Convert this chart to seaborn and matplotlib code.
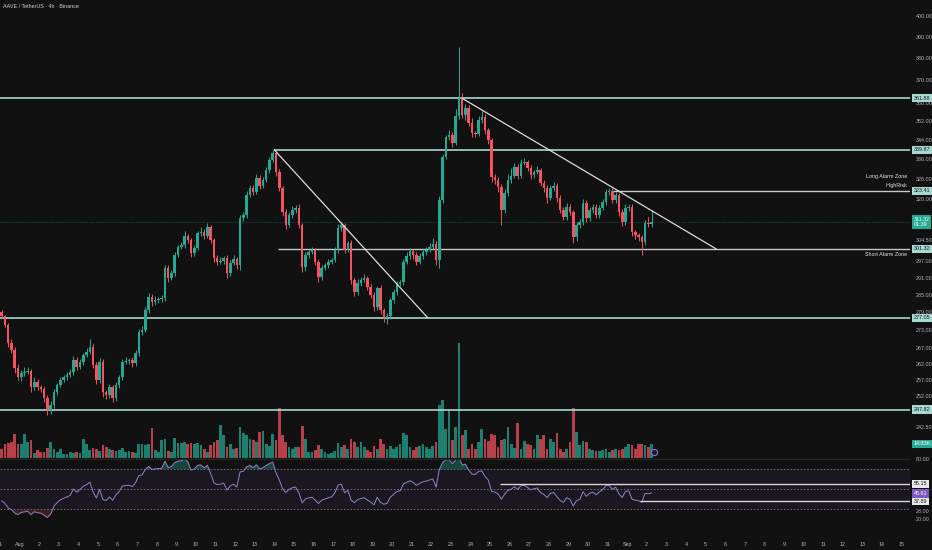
import numpy as np
import pandas as pd
import matplotlib
matplotlib.use("Agg")
import matplotlib.pyplot as plt
import matplotlib.transforms as mtransforms
from matplotlib.ticker import FixedLocator, NullLocator, FuncFormatter
import seaborn as sns

# AAVE / TetherUS, 4h candles from 31 Jul 2025
start = pd.Timestamp("2025-07-31 00:00")
first_open = 279.0

closes = [
    277.7, 274.7, 268.7, 266.4, 260.6, 257.8, 259.1, 259.4, 259.7, 254.7,
    256.3, 254.7, 254.1, 251.3, 247.7, 249.2, 253.2, 255.3, 256.9, 257.8,
    258.5, 259.4, 263.2, 261.0, 262.6, 264.8, 265.8, 267.4, 261.6, 256.9,
    262.6, 253.2, 252.2, 254.7, 251.3, 255.3, 257.8, 262.6, 262.9, 263.2,
    262.2, 265.4, 272.3, 273.0, 279.7, 284.2, 282.4, 283.1, 283.5, 283.8,
    294.4, 290.8, 292.6, 299.1, 302.0, 302.7, 306.0, 304.6, 299.8, 301.6,
    307.1, 307.5, 306.0, 309.4, 304.6, 298.0, 296.6, 297.0, 298.0, 292.6,
    296.2, 297.7, 295.5, 312.9, 314.0, 321.7, 324.5, 322.9, 328.4, 325.3,
    327.7, 331.7, 335.7, 338.6, 330.9, 324.5, 315.1, 310.2, 314.0, 315.9,
    316.7, 310.2, 294.8, 299.1, 300.2, 300.9, 296.6, 291.2, 294.4, 295.5,
    296.6, 297.3, 300.9, 309.1, 310.2, 300.9, 303.4, 290.1, 285.9, 289.1,
    290.1, 290.8, 287.7, 284.9, 280.7, 287.3, 279.7, 277.0, 277.6, 283.1,
    285.9, 288.7, 289.4, 296.6, 298.7, 300.5, 299.1, 296.6, 298.7, 300.2,
    300.9, 302.0, 303.1, 297.3, 319.8, 337.0, 345.3, 346.1, 342.7, 354.2,
    361.9, 354.6, 357.7, 351.2, 346.9, 346.5, 352.5, 353.8, 348.2, 344.0,
    328.8, 327.7, 324.9, 315.9, 322.5, 327.7, 329.3, 332.9, 329.3, 334.5,
    334.9, 332.5, 329.6, 330.8, 331.7, 326.5, 324.5, 320.6, 324.5, 325.3,
    320.6, 315.9, 313.2, 317.1, 315.1, 305.6, 310.2, 311.3, 318.6, 312.9,
    315.9, 317.1, 314.0, 316.7, 319.0, 322.9, 323.4, 319.8, 321.7, 315.1,
    311.3, 316.7, 317.1, 307.5, 306.4, 305.6, 303.8, 310.9, 310.6, 311.32,
]

wick_up = [
    0.8, 0.5, 0.6, 1.2, 0.9, 1.5, 1.0, 1.6, 1.2, 0.8,
    1.5, 0.9, 0.7, 0.6, 0.8, 1.1, 0.9, 0.7, 0.8, 0.6,
    0.9, 0.8, 1.4, 0.9, 1.0, 0.8, 1.2, 2.6, 1.0, 0.9,
    1.4, 0.8, 0.7, 1.1, 0.6, 0.9, 0.8, 1.0, 1.2, 0.7,
    1.0, 0.9, 1.2, 1.5, 0.9, 1.4, 1.1, 1.6, 0.8, 1.0,
    1.2, 1.1, 0.9, 1.0, 0.8, 1.3, 2.0, 0.7, 0.9, 1.3,
    1.0, 1.8, 1.2, 1.4, 0.9, 0.8, 1.0, 1.2, 0.9, 1.1,
    1.0, 1.4, 0.8, 1.2, 1.0, 1.5, 1.0, 1.3, 1.5, 1.1,
    1.0, 1.2, 1.1, 1.3, 0.9, 1.0, 0.8, 1.1, 1.2, 1.4,
    1.0, 1.5, 0.9, 1.2, 1.1, 1.0, 0.9, 1.0, 1.1, 0.8,
    0.9, 0.8, 1.0, 1.4, 1.0, 0.9, 0.9, 1.2, 0.8, 1.3,
    1.0, 1.4, 0.8, 0.9, 1.1, 0.8, 0.9, 0.6, 1.0, 0.9,
    1.0, 1.2, 0.8, 1.1, 1.3, 1.0, 0.9, 1.2, 1.0, 0.9,
    1.1, 1.4, 2.2, 1.0, 1.5, 1.2, 1.0, 2.0, 1.4, 3.0,
    23.3, 2.5, 1.5, 1.2, 2.0, 1.0, 1.5, 2.5, 1.2, 1.0,
    1.0, 1.3, 1.0, 1.2, 1.5, 2.2, 3.0, 1.5, 1.2, 1.5,
    1.8, 1.0, 1.2, 1.0, 1.4, 0.9, 1.0, 1.2, 1.0, 1.6,
    1.0, 1.1, 1.0, 1.4, 1.0, 0.9, 1.2, 1.0, 1.5, 1.0,
    1.2, 1.0, 1.1, 1.3, 1.0, 1.2, 0.9, 1.0, 1.3, 1.0,
    1.1, 1.4, 1.0, 1.2, 1.0, 0.8, 1.0, 1.2, 2.4, 4.6,
]

wick_dn = [
    0.6, 0.8, 1.2, 0.8, 1.5, 1.0, 1.3, 0.9, 0.7, 1.5,
    0.8, 1.0, 0.9, 1.2, 1.4, 1.2, 0.9, 0.8, 0.7, 0.6,
    0.8, 0.7, 0.9, 1.1, 0.8, 0.9, 0.7, 0.8, 1.0, 1.4,
    0.9, 1.5, 1.1, 0.8, 1.2, 0.8, 0.9, 1.0, 0.7, 0.9,
    1.1, 0.8, 0.9, 1.0, 0.8, 0.9, 1.2, 0.8, 1.0, 0.9,
    1.0, 1.3, 0.8, 1.0, 0.9, 0.8, 0.9, 1.0, 1.4, 1.0,
    0.8, 0.9, 1.2, 0.8, 1.0, 1.5, 1.1, 0.9, 1.0, 1.6,
    1.2, 0.9, 1.4, 1.8, 1.0, 1.2, 0.8, 1.0, 0.9, 1.3,
    0.9, 1.0, 1.1, 0.8, 1.5, 1.2, 1.6, 1.4, 0.9, 1.0,
    1.0, 1.3, 2.0, 1.5, 1.0, 0.9, 1.2, 1.8, 1.0, 0.9,
    1.0, 0.8, 0.9, 1.0, 1.1, 1.2, 0.8, 1.4, 1.5, 0.9,
    1.0, 0.8, 1.2, 1.0, 1.3, 1.0, 1.4, 1.2, 2.0, 0.8,
    0.9, 1.0, 0.8, 1.0, 0.9, 1.1, 1.3, 1.0, 0.8, 0.9,
    1.0, 0.9, 0.8, 2.0, 2.8, 1.2, 1.0, 1.5, 1.8, 1.0,
    1.5, 1.2, 2.0, 1.5, 1.8, 1.4, 1.0, 1.2, 1.6, 1.8,
    2.0, 1.5, 1.8, 5.7, 1.2, 1.0, 1.4, 1.0, 1.2, 1.0,
    1.0, 1.2, 1.4, 1.0, 0.9, 1.2, 1.4, 1.8, 1.0, 1.2,
    1.6, 1.3, 1.0, 1.1, 1.2, 2.2, 1.4, 1.0, 1.2, 1.5,
    1.0, 1.2, 1.0, 1.0, 0.9, 1.0, 1.0, 1.3, 1.0, 1.4,
    1.5, 1.0, 1.2, 1.5, 1.3, 1.2, 4.7, 1.0, 1.2, 1.0,
]

volume_k = [
    9, 14, 15, 16, 24, 14, 14, 24, 16, 18,
    5, 8, 6, 6, 10, 16, 9, 6, 9, 4,
    4, 6, 5, 6, 5, 19, 14, 8, 10, 9,
    7, 13, 11, 9, 8, 7, 8, 10, 6, 7,
    6, 5, 14, 14, 13, 14, 30, 8, 6, 18,
    19, 7, 6, 20, 15, 15, 16, 14, 15, 14,
    15, 13, 9, 6, 13, 16, 18, 33, 23, 11,
    14, 9, 10, 31, 25, 23, 19, 18, 16, 26,
    27, 14, 12, 24, 18, 50, 23, 16, 11, 9,
    11, 11, 32, 19, 6, 6, 8, 13, 9, 6,
    4, 5, 7, 15, 11, 13, 9, 19, 16, 11,
    16, 11, 8, 6, 12, 9, 19, 14, 9, 12,
    9, 11, 14, 25, 23, 11, 8, 11, 12, 14,
    11, 9, 12, 16, 53, 58, 29, 48, 18, 31,
    115, 23, 28, 9, 14, 9, 16, 29, 19, 17,
    24, 23, 11, 18, 19, 31, 14, 10, 35, 9,
    17, 14, 13, 9, 23, 19, 23, 9, 19, 16,
    25, 9, 6, 9, 16, 50, 26, 13, 17, 16,
    9, 8, 7, 7, 8, 9, 6, 8, 9, 8,
    9, 11, 14, 13, 9, 14, 14, 13, 11, 14.33,
]

# RSI(14) state before the first candle, estimated from the left edge
rsi_seed_gain = 1.3
rsi_seed_loss = 2.0

# drawn levels and lines
full_levels = [361.88, 339.87, 277.05, 247.82]
level_starts = {339.87: "2025-08-14 00:00"}
part_levels = [(323.41, "2025-08-31 04:00"), (301.32, "2025-08-14 04:00")]
trend_lines = [
    (("2025-08-14 00:00", 339.87), ("2025-08-21 20:00", 277.05)),
    (("2025-08-23 14:00", 361.88), ("2025-09-05 13:00", 301.32)),
]
rsi_lines = [(55.15, "2025-08-25 12:00"), (37.89, "2025-09-01 16:00")]
rsi_now = 45.61
price_now = 311.32
price_ticks = [400, 390, 380, 370, 360, 352, 344, 336, 328, 320, 304.5,
               297, 291, 285, 279, 273, 267, 262, 257, 252, 242.5, 238]
rsi_ticks = [80, 28, 20]

bg = "#111111"
up_col = "#22ab94"
dn_col = "#f7525f"
level_col = "#a8d8d0"
grey_line = "#c8c8c8"
text_col = "#b2b5be"
fs = 3.9

sns.set_theme(style="dark", rc={
    "axes.facecolor": bg, "figure.facecolor": bg,
    "axes.edgecolor": bg, "text.color": text_col,
    "xtick.color": text_col, "ytick.color": text_col,
})
plt.rcParams["font.family"] = ["Liberation Sans", "DejaVu Sans"]


def day_of(ts):
    return (pd.Timestamp(ts) - start) / pd.Timedelta(days=1)


n = len(closes)
closes_a = np.array(closes)
opens_a = np.r_[first_open, closes_a[:-1]]
highs_a = np.maximum(opens_a, closes_a) + np.array(wick_up)
lows_a = np.minimum(opens_a, closes_a) - np.array(wick_dn)
t = (np.arange(n) + 0.5) / 6.0
is_up = closes_a >= opens_a
colors = np.where(is_up, up_col, dn_col)

chg = np.diff(np.r_[first_open, closes_a])
avg_g, avg_l = rsi_seed_gain, rsi_seed_loss
rsi = []
for d in chg:
    avg_g = (avg_g * 13 + max(d, 0)) / 14
    avg_l = (avg_l * 13 + max(-d, 0)) / 14
    rsi.append(100 - 100 / (1 + avg_g / avg_l))
rsi = np.array(rsi)
df_rsi = pd.DataFrame({"t": t, "rsi": rsi})

W, H = 932, 550
x0 = 1 - 19.5 / 19.6
x1 = x0 + 910 / 19.6

fig = plt.figure(figsize=(W / 100, H / 100), dpi=100)
rect_main = [0, 92 / H, 910 / W, 458 / H]
ax_vol = fig.add_axes(rect_main)
ax = fig.add_axes(rect_main, sharex=ax_vol)
ax.patch.set_alpha(0)
ax_rsi = fig.add_axes([0, 14 / H, 910 / W, 77 / H], sharex=ax_vol)

for a in (ax_vol, ax, ax_rsi):
    for s in a.spines.values():
        s.set_visible(False)
    a.grid(False)

# volume
ax_vol.bar(t, volume_k, width=0.14, color=colors, alpha=0.72, linewidth=0)
ax_vol.set_ylim(0, 458)
ax_vol.set_yticks([])
ax_vol.tick_params(axis="x", bottom=False, labelbottom=False)
ax_vol.plot([t[-1] + 0.12], [6], marker="o", ms=4.5, mfc="#1e1533",
            mec="#9c6ade", mew=0.8, ls="none")

# candles
ax.set_yscale("log")
ax.vlines(t, lows_a, highs_a, colors=colors, linewidth=0.7, zorder=3)
body = np.maximum(np.abs(closes_a - opens_a), 0.3)
ax.bar(t, body, bottom=np.minimum(opens_a, closes_a), width=0.13,
       color=colors, linewidth=0, zorder=4)

ax.set_xlim(x0, x1)
ax.set_ylim(233.64, 407.86)

for lv in full_levels:
    xs = day_of(level_starts[lv]) if lv in level_starts else x0
    ax.hlines(lv, xs, x1, color=level_col, linewidth=1.2, zorder=2)
for lv, ts in part_levels:
    ax.hlines(lv, day_of(ts), x1, color=grey_line, linewidth=1.0, zorder=2)
for (ta, pa), (tb, pb) in trend_lines:
    ax.plot([day_of(ta), day_of(tb)], [pa, pb], color="#dcdcdc",
            linewidth=0.9, zorder=5)
ax.axhline(price_now, color=up_col, linewidth=0.5, ls=(0, (1, 1.5)),
           alpha=0.6, zorder=2)

ax.yaxis.tick_right()
ax.yaxis.set_major_locator(FixedLocator(price_ticks))
ax.yaxis.set_minor_locator(NullLocator())
ax.yaxis.set_major_formatter(FuncFormatter(lambda v, _: f"{v:.2f}"))
ax.tick_params(axis="y", which="both", length=0, pad=4, labelsize=fs,
               labelcolor=text_col)
ax.tick_params(axis="x", bottom=False, labelbottom=False)

tr_p = mtransforms.blended_transform_factory(ax.transAxes, ax.transData)


def box(a, trans, y, txt, fc, tc):
    a.text(1.004, y, txt, transform=trans, ha="left", va="center",
           fontsize=fs, color=tc, clip_on=False, zorder=10,
           bbox=dict(boxstyle="square,pad=0.3", fc=fc, ec="none"))


for lv in full_levels + [p for p, _ in part_levels]:
    box(ax, tr_p, lv, f"{lv:.2f}", level_col, "#131722")
ax.text(1.004, price_now, f"{price_now:.2f}\n01:39", transform=tr_p,
        ha="left", va="center", fontsize=fs, color="white",
        linespacing=1.1, clip_on=False, zorder=10,
        bbox=dict(boxstyle="square,pad=0.3", fc=up_col, ec="none"))

tr_v = mtransforms.blended_transform_factory(ax_vol.transAxes, ax_vol.transData)
box(ax_vol, tr_v, volume_k[-1], f"{volume_k[-1]:.2f}K", up_col, "white")

note_kw = dict(transform=tr_p, ha="right", va="center", fontsize=3.9,
               color="#e6e6e6", zorder=6)
ax.text(0.997, 329.2, "Long Alarm Zone", **note_kw)
ax.text(0.997, 325.3, "HighRisk", **note_kw)
ax.text(0.997, 299.1, "Short Alarm Zone", **note_kw)

fig.text(3 / W, 1 - 7 / H, "AAVE / TetherUS \u00b7 4h \u00b7 Binance",
         fontsize=3.9, color="#d1d4dc", va="center", ha="left")

# RSI pane
ax_rsi.axhspan(30, 70, color="#7e57c2", alpha=0.09, linewidth=0)
for lv in (70, 50, 30):
    ax_rsi.axhline(lv, color="#787b86", linewidth=0.6, ls=(0, (2, 2)))
ax_rsi.fill_between(t, rsi, 70, where=rsi > 70, interpolate=True,
                    color=up_col, alpha=0.35, linewidth=0)
ax_rsi.fill_between(t, rsi, 30, where=rsi < 30, interpolate=True,
                    color=dn_col, alpha=0.2, linewidth=0)
sns.lineplot(data=df_rsi, x="t", y="rsi", ax=ax_rsi, color="#9283c9",
             linewidth=0.7)
for lv, ts in rsi_lines:
    ax_rsi.hlines(lv, day_of(ts), x1, color="#d8d8d8", linewidth=1.0)
ax_rsi.set_ylim(3, 80)
ax_rsi.set_xlim(x0, x1)
ax_rsi.set_xlabel("")
ax_rsi.set_ylabel("")
ax_rsi.yaxis.tick_right()
ax_rsi.set_yticks(rsi_ticks)
ax_rsi.yaxis.set_major_formatter(FuncFormatter(lambda v, _: f"{v:.2f}"))
ax_rsi.tick_params(axis="y", length=0, pad=4, labelsize=fs,
                   labelcolor=text_col)
ax_rsi.spines["top"].set_visible(True)
ax_rsi.spines["top"].set_color("#262626")
ax_rsi.spines["top"].set_linewidth(0.8)

tr_r = mtransforms.blended_transform_factory(ax_rsi.transAxes, ax_rsi.transData)
for lv, _ in rsi_lines:
    box(ax_rsi, tr_r, lv, f"{lv:.2f}", "#e8e8e8", "#131722")
box(ax_rsi, tr_r, rsi_now, f"{rsi_now:.2f}", "#7e57c2", "white")

days = pd.date_range(start, periods=47, freq="D")
day_labels = [d.strftime("%b") if d.day == 1 else str(d.day) for d in days]
ax_rsi.set_xticks(np.arange(len(days)))
ax_rsi.set_xticklabels(day_labels)
ax_rsi.tick_params(axis="x", length=0, pad=4, labelsize=fs,
                   labelcolor=text_col)

fig.savefig("out.png", dpi=100, facecolor=bg)
